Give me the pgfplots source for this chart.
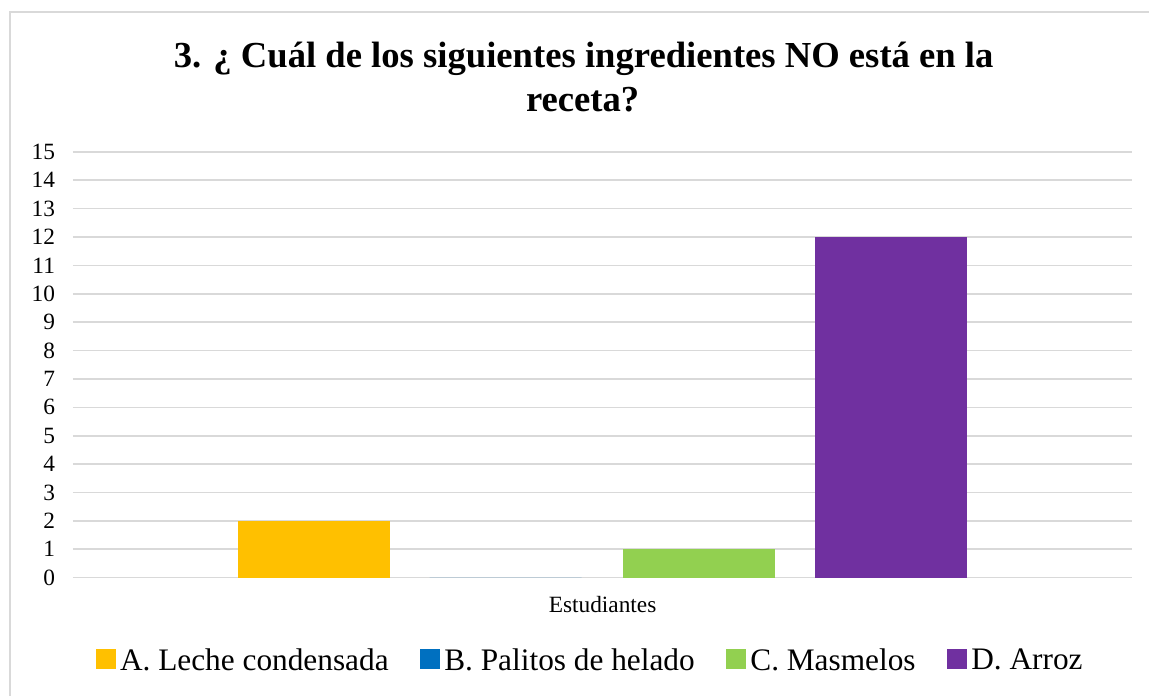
\documentclass[border=0pt]{standalone}
\usepackage{fontspec}
\setmainfont{Liberation Serif}
\newfontfamily\tnr{Liberation Serif}
\usepackage{pgfplots}
\pgfplotsset{compat=1.18}
\definecolor{cA}{HTML}{FFC000}
\definecolor{cB}{HTML}{0070C0}
\definecolor{cC}{HTML}{92D050}
\definecolor{cD}{HTML}{7030A0}
\definecolor{gridc}{HTML}{D9D9D9}
\begin{document}
\begin{tikzpicture}
\path (0,0) rectangle (862.5pt,-522pt);
\draw[gridc, line width=1.1pt] (7.5pt,-522pt) -- (7.5pt,-9pt) -- (862.5pt,-9pt);
\node[anchor=base, font=\tnr\bfseries\fontsize{27.5}{33}\selectfont] at (438pt,-51pt) {3. ¿ Cuál de los siguientes ingredientes NO está en la};
\node[anchor=base, font=\tnr\bfseries\fontsize{27.5}{33}\selectfont] at (437.25pt,-83.5pt) {receta?};
\begin{axis}[
  at={(54.75pt,-433.5pt)}, anchor=south west,
  scale only axis, width=795pt, height=319.5pt,
  xmin=73, xmax=1133, ymin=0, ymax=15,
  ytick={0,...,15}, xtick={603}, xticklabels={Estudiantes},
  ybar, bar width=152,
  axis line style={draw=none},
  major tick length=0pt,
  ymajorgrids, grid style={gridc, line width=1.2pt},
  tick label style={font=\tnr\fontsize{17.5}{20}\selectfont},
  /pgf/number format/assume math mode=true,
  yticklabel style={xshift=-10pt},
  xticklabel style={yshift=-10.5pt},
  legend columns=4,
  legend style={at={(axis description cs:0.4887,-0.195)}, anchor=center, draw=none,
    font=\tnr\fontsize{23.5}{28}\selectfont,
    /tikz/every odd column/.append style={column sep=1pt},
    /tikz/every even column/.append style={column sep=21.75pt}},
  legend image code/.code={\fill[#1] (0pt,-6.5pt) rectangle (15pt,8.5pt);},
]
\addplot[fill=cA, draw=none, bar shift=0pt] coordinates {(314,2)};
\addlegendentry{A. Leche condensada}
\addplot[fill=cB, draw=none, bar shift=0pt] coordinates {(506,0)};
\addlegendentry{B. Palitos de helado}
\addplot[fill=cC, draw=none, bar shift=0pt] coordinates {(699,1)};
\addlegendentry{C. Masmelos}
\addplot[fill=cD, draw=none, bar shift=0pt] coordinates {(892,12)};
\addlegendentry{D. Arroz}
\end{axis}
\end{tikzpicture}
\end{document}
